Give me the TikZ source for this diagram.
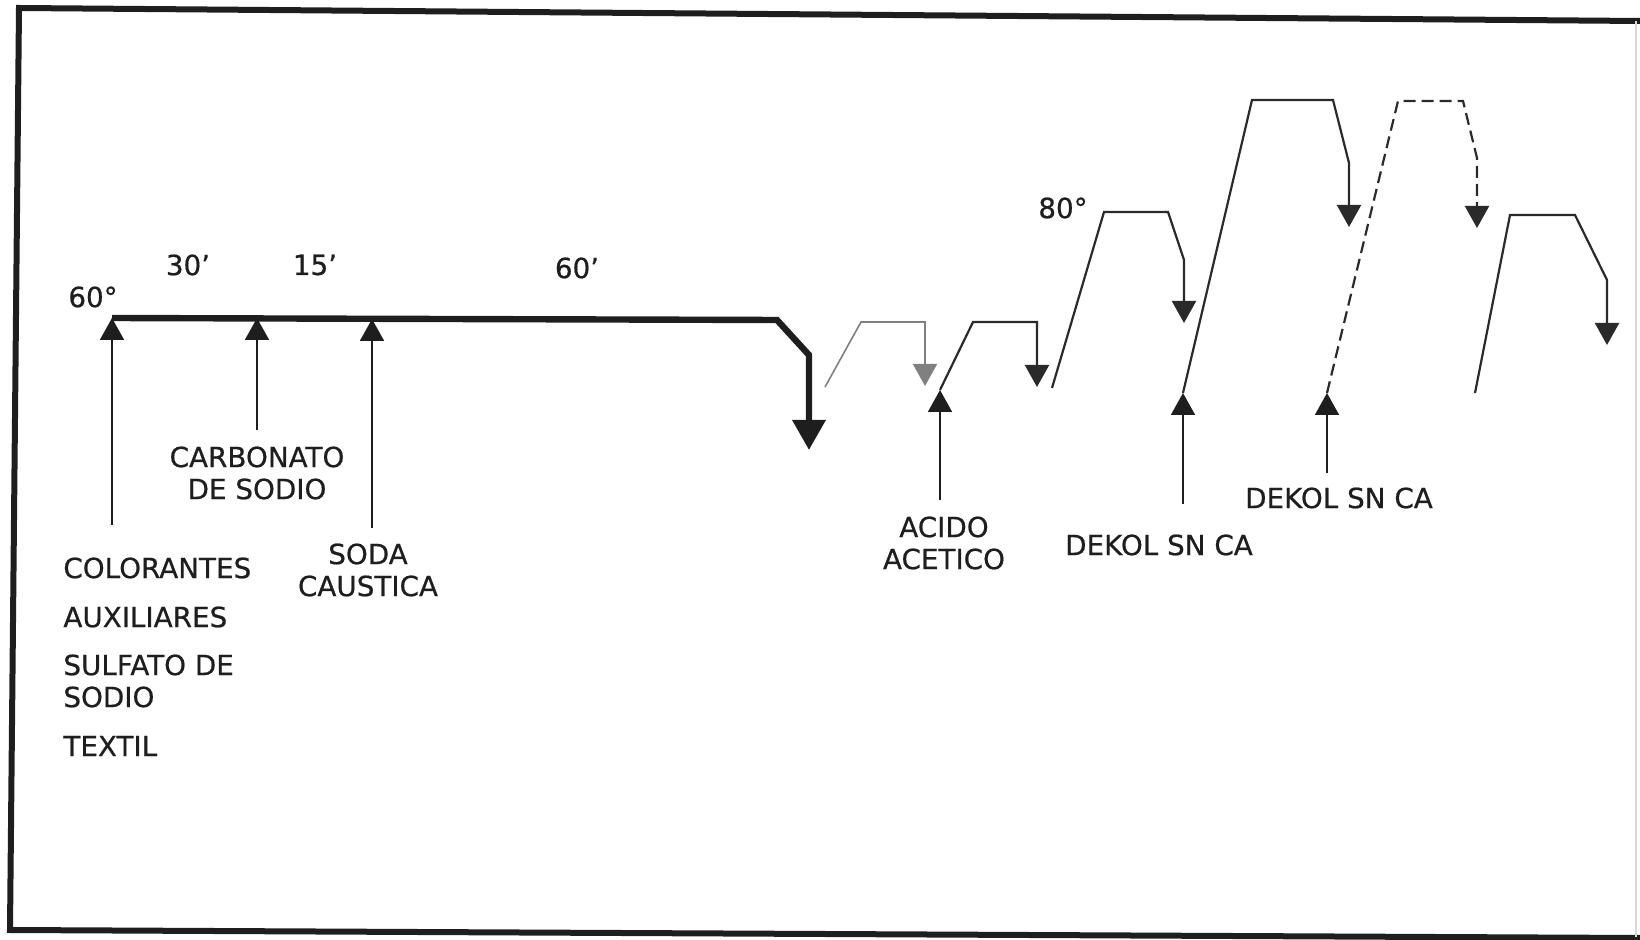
\documentclass[tikz,border=0pt]{standalone}
\usepackage{fontspec}
\setmainfont[FakeBold=0.6]{DejaVu Sans}
\usetikzlibrary{arrows.meta}
\definecolor{ink}{HTML}{1E1E1E}
\definecolor{curveink}{HTML}{2A2A2A}
\definecolor{paleink}{HTML}{808080}
\definecolor{edgeink}{HTML}{D8D8D8}
\begin{document}
\begin{tikzpicture}[x=0.5pt,y=-0.5pt,
  lbl/.style={font=\fontsize{13.9}{16}\selectfont, text=ink, inner sep=0pt, align=center},
  lbll/.style={lbl, anchor=west, align=left},
  framestyle/.style={line width=3pt, draw=ink, line cap=round},
  mainpath/.style={line width=3.2pt, draw=ink, line join=miter, -{Triangle[width=16pt,length=15pt]}},
  feed/.style={line width=0.9pt, draw=ink, -{Triangle[width=12pt,length=11pt]}},
  trace/.style={line width=1.1pt, draw=curveink, line join=miter, -{Triangle[width=12pt,length=11pt]}},
  faint/.style={trace, draw=paleink, line width=0.8pt},
  dashtrace/.style={trace, dash pattern=on 6pt off 3pt}
]
\useasboundingbox (0,0) rectangle (1640,940);
% frame
\coordinate (tl) at (19,8);
\coordinate (tr) at (1640,21);
\coordinate (bl) at (10,930);
\coordinate (br) at (1640,938);
\draw[framestyle] (tr) -- (tl) -- (bl) -- (br);
\coordinate (rt) at (1636,21);
\coordinate (rb) at (1636,937);
\draw[edgeink, line width=0.8pt] (rt) -- (rb);

% main dyeing line
\coordinate (m0) at (112,318);
\coordinate (m1) at (777,320);
\coordinate (m2) at (809,355);
\coordinate (m3) at (809,450);
\draw[mainpath] (m0) -- (m1) -- (m2) -- (m3);

% additions
\coordinate (f1b) at (112,525); \coordinate (f1t) at (112,318);
\coordinate (f2b) at (257,430); \coordinate (f2t) at (257,318);
\coordinate (f3b) at (372,528); \coordinate (f3t) at (372,319);
\draw[feed] (f1b) -- (f1t);
\draw[feed] (f2b) -- (f2t);
\draw[feed] (f3b) -- (f3t);

% rinse 1 (faint)
\coordinate (r1a) at (825,387); \coordinate (r1b) at (861,322);
\coordinate (r1c) at (925,322); \coordinate (r1d) at (925,386);
\draw[faint] (r1a) -- (r1b) -- (r1c) -- (r1d);

% rinse 2 with acid
\coordinate (r2a) at (940,390); \coordinate (r2b) at (973,322);
\coordinate (r2c) at (1037,322); \coordinate (r2d) at (1037,387);
\draw[trace] (r2a) -- (r2b) -- (r2c) -- (r2d);
\coordinate (acb) at (940,500); \coordinate (act) at (940,390);
\draw[feed] (acb) -- (act);

% 80 deg bath
\coordinate (r3a) at (1052,388); \coordinate (r3b) at (1104,212);
\coordinate (r3c) at (1168,212); \coordinate (r3d) at (1184,260);
\coordinate (r3e) at (1184,323);
\draw[trace] (r3a) -- (r3b) -- (r3c) -- (r3d) -- (r3e);

% soaping 1
\coordinate (r4a) at (1183,393); \coordinate (r4b) at (1252,100);
\coordinate (r4c) at (1333,100); \coordinate (r4d) at (1349,163);
\coordinate (r4e) at (1349,227);
\draw[trace] (r4a) -- (r4b) -- (r4c) -- (r4d) -- (r4e);
\coordinate (d1b) at (1183,504); \coordinate (d1t) at (1183,393);
\draw[feed] (d1b) -- (d1t);

% soaping 2 (dashed)
\coordinate (r5a) at (1327,393); \coordinate (r5b) at (1398,101);
\coordinate (r5c) at (1463,101); \coordinate (r5d) at (1477,158);
\coordinate (r5e) at (1477,228);
\draw[dashtrace] (r5a) -- (r5b) -- (r5c) -- (r5d) -- (r5e);
\coordinate (d2b) at (1327,473); \coordinate (d2t) at (1327,393);
\draw[feed] (d2b) -- (d2t);

% final rinse
\coordinate (r6a) at (1475,393); \coordinate (r6b) at (1510,215);
\coordinate (r6c) at (1575,215); \coordinate (r6d) at (1607,280);
\coordinate (r6e) at (1607,345);
\draw[trace] (r6a) -- (r6b) -- (r6c) -- (r6d) -- (r6e);

% labels
\node[lbl] (t60) at (93,297) {60°};
\node[lbl] (t30) at (188,265) {30'};
\node[lbl] (t15) at (315,265) {15'};
\node[lbl] (t60m) at (577,268) {60'};
\node[lbl] (t80) at (1063,208) {80°};
\node[lbl] (carb) at (257,473) {CARBONATO\\DE SODIO};
\node[lbl] (soda) at (368,570) {SODA\\CAUSTICA};
\node[lbl] (acido) at (944,543) {ACIDO\\ACETICO};
\node[lbl] (dek1) at (1159,545) {DEKOL SN CA};
\node[lbl] (dek2) at (1339,498) {DEKOL SN CA};
\node[lbll] (col) at (63,568) {COLORANTES};
\node[lbll] (aux) at (63,617) {AUXILIARES};
\node[lbll] (sul) at (63,681) {SULFATO DE\\SODIO};
\node[lbll] (tex) at (63,746) {TEXTIL};
\end{tikzpicture}
\end{document}
